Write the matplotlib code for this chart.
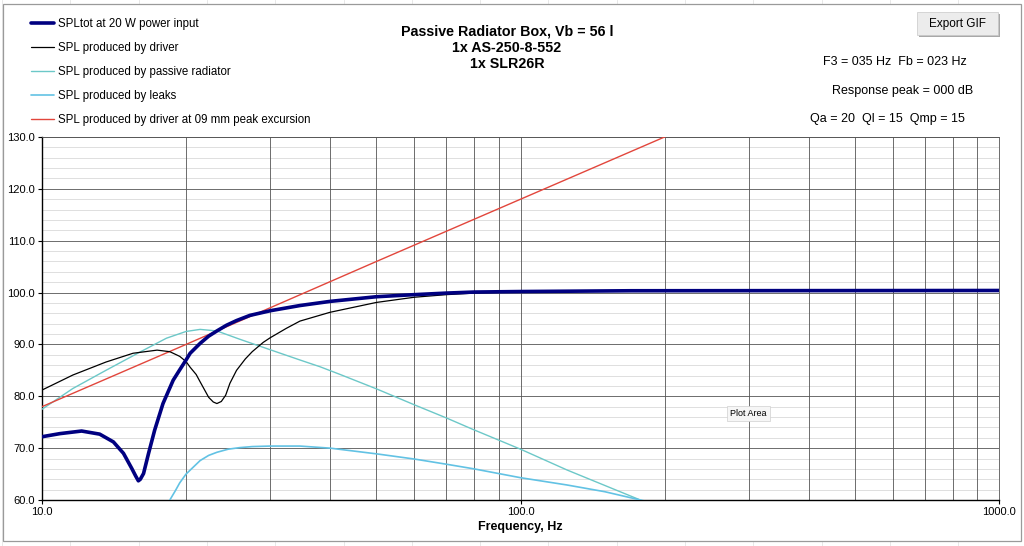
#!/usr/bin/env python3
# -*- coding: utf-8 -*-
"""Passive radiator box - SPL curves (Excel style chart)."""

import numpy as np
import matplotlib
matplotlib.use('Agg')
import matplotlib.pyplot as plt
from matplotlib.patches import Rectangle
from matplotlib.ticker import FixedLocator, NullFormatter

plt.rcParams['font.family'] = ['Liberation Sans', 'DejaVu Sans']

# --- dane ---
f_tot = [10.0, 10.9, 12.1, 13.2, 14.1, 14.8, 15.4, 15.7, 15.9, 16.05, 16.3, 16.7,
         17.2, 17.9, 18.8, 19.4, 20.0, 20.4, 21.4, 22.3, 23.2, 24.3, 25.5, 27.2,
         30, 34.6, 40, 50, 60, 70, 80, 100, 170, 1000]
spl_tot = [72.2, 72.8, 73.3, 72.7, 71.2, 69.0, 66.1, 64.6, 63.7, 64.0, 65.1, 69.0,
           73.5, 78.6, 83.1, 85.1, 87.0, 88.3, 90.2, 91.6, 92.6, 93.7, 94.6, 95.6,
           96.5, 97.5, 98.3, 99.2, 99.6, 99.9, 100.1, 100.2, 100.35, 100.4]

f_drv = [10.0, 11.6, 13.6, 15.5, 17.4, 18.5, 19.4, 20.0, 20.4, 21.0, 21.4, 22.3,
         22.8, 23.2, 23.7, 24.2, 24.7, 25.5, 26.6, 27.5, 29.0, 30, 32.4, 34.6,
         40, 50, 60, 70, 80, 100, 170, 1000]
spl_drv = [81.2, 84.1, 86.6, 88.3, 88.9, 88.6, 87.7, 86.7, 85.6, 84.2, 82.8, 79.8,
           78.9, 78.6, 79.0, 80.2, 82.5, 85.0, 87.2, 88.6, 90.4, 91.3, 93.1, 94.5,
           96.2, 98.1, 99.1, 99.6, 99.9, 100.15, 100.35, 100.4]

f_pr = [10.0, 11.6, 13.6, 16.0, 18.2, 20.0, 21.4, 23.2, 25.9, 29.5, 34.6, 38.1,
        42, 50.1, 60.2, 70.1, 79.6, 100, 125, 178, 200]
spl_pr = [77.5, 81.5, 85.0, 88.5, 91.2, 92.5, 92.9, 92.6, 91.0, 89.2, 87.0, 85.7,
          84.2, 81.4, 78.3, 75.8, 73.6, 69.8, 65.8, 60.0, 58.0]

f_leak = [18.5, 19.0, 19.4, 20.0, 21.4, 22.3, 23.2, 24.5, 25.9, 27.5, 30, 34.6,
          40, 50, 60, 70, 80, 100, 125, 150, 178, 200]
spl_leak = [60.0, 61.8, 63.3, 65.0, 67.6, 68.6, 69.2, 69.8, 70.1, 70.3, 70.4, 70.4,
            70.0, 68.9, 67.9, 66.9, 66.0, 64.3, 62.9, 61.6, 60.0, 58.9]

f_xmax = [10, 20, 50, 100, 200, 300]
spl_xmax = [78.0, 90.0, 106.0, 118.0, 130.0, 137.0]

legend_labels = ['SPLtot at 20 W power input',
                 'SPL produced by driver',
                 'SPL produced by passive radiator',
                 'SPL produced by leaks',
                 'SPL produced by driver at 09 mm peak excursion']

title_lines = ['Passive Radiator Box, Vb = 56 l', '1x AS-250-8-552', '1x SLR26R']
info_lines = ['F3 = 035 Hz  Fb = 023 Hz', 'Response peak = 000 dB',
              'Qa = 20  Ql = 15  Qmp = 15']

x_ticks = [10, 100, 1000]
x_ticklabels = ['10.0', '100.0', '1000.0']
y_ticks = [60, 70, 80, 90, 100, 110, 120, 130]


def main():
    W, H = 1024, 546
    fig = plt.figure(figsize=(W / 100, H / 100), dpi=100)
    fig.patch.set_facecolor('white')

    # tlo arkusza - slabe linie siatki Excela
    for xc in np.arange(2.0, W, 68.3):
        fig.add_artist(plt.Line2D([xc / W, xc / W], [0, 1], color='#e4e4e4', lw=0.6, zorder=0))
    # ramka obszaru wykresu
    fig.add_artist(Rectangle((3 / W, 1 - 541 / H), 1018 / W, 537 / H, transform=fig.transFigure,
                             facecolor='white', edgecolor='#9a9a9a', lw=0.9, zorder=1))

    ax = fig.add_axes([42 / W, 1 - 500 / H, 957 / W, 363 / H])
    ax.set_zorder(2)
    ax.set_xscale('log')
    ax.set_xlim(10, 1000)
    ax.set_ylim(60, 130)

    # siatka
    minor_x = [m * 10 ** d for d in (1, 2) for m in range(2, 10)]
    for xv in minor_x + [100]:
        ax.axvline(xv, color='#555555', lw=0.6, zorder=1)
    for yv in np.arange(62, 130, 2):
        if yv % 10:
            ax.axhline(yv, color='#d9d9d9', lw=0.6, zorder=0.5)
    for yv in y_ticks[1:]:
        ax.axhline(yv, color='#555555', lw=0.6, zorder=1)

    ax.xaxis.set_major_locator(FixedLocator(x_ticks))
    ax.xaxis.set_minor_locator(FixedLocator([]))
    ax.xaxis.set_minor_formatter(NullFormatter())
    ax.set_xticklabels(x_ticklabels)
    ax.set_yticks(y_ticks)
    ax.set_yticklabels([f'{v:.1f}' for v in y_ticks])
    ax.tick_params(axis='both', labelsize=8, length=3, width=0.8, color='black', pad=2)
    for s in ('top', 'right'):
        ax.spines[s].set_color('#555555')
        ax.spines[s].set_linewidth(0.6)
    for s in ('left', 'bottom'):
        ax.spines[s].set_color('black')
        ax.spines[s].set_linewidth(1.0)

    ax.set_xlabel('Frequency, Hz', fontsize=9, fontweight='bold', labelpad=3)

    # krzywe
    kw = dict(solid_joinstyle='round', solid_capstyle='round')
    l_pr, = ax.plot(f_pr, spl_pr, color='#6cc8c8', lw=1.0, zorder=3, **kw)
    l_leak, = ax.plot(f_leak, spl_leak, color='#62c2e4', lw=1.2, zorder=3, **kw)
    l_xmax, = ax.plot(f_xmax, spl_xmax, color='#e2463c', lw=1.0, zorder=3, **kw)
    l_drv, = ax.plot(f_drv, spl_drv, color='black', lw=0.9, zorder=4, **kw)
    l_tot, = ax.plot(f_tot, spl_tot, color='#000080', lw=2.6, zorder=5, **kw)

    fig.legend([l_tot, l_drv, l_pr, l_leak, l_xmax], legend_labels,
               loc='upper left', bbox_to_anchor=(26 / W, 1 - 13 / H),
               frameon=False, fontsize=8.3, handlelength=2.0,
               handletextpad=0.35, labelspacing=1.05, borderaxespad=0)

    # tytul
    for i, t in enumerate(title_lines):
        fig.text(507 / W, 1 - (32 + 16 * i) / H, t, ha='center', va='center',
                 fontsize=10.3, fontweight='bold')

    # parametry
    info_x = [967, 973, 965]
    info_y = [62, 91, 119]
    for t, xx, yy in zip(info_lines, info_x, info_y):
        fig.text(xx / W, 1 - yy / H, t, ha='right', va='center', fontsize=9)

    # przycisk "Export GIF"
    fig.add_artist(Rectangle((919 / W, 1 - 37 / H), 81 / W, 23 / H, transform=fig.transFigure,
                             facecolor='#a8a8a8', edgecolor='none', zorder=3))
    fig.add_artist(Rectangle((917 / W, 1 - 35 / H), 81 / W, 23 / H, transform=fig.transFigure,
                             facecolor='#ececec', edgecolor='#c8c8c8', lw=0.5, zorder=4))
    fig.text(957.5 / W, 1 - 23.5 / H, 'Export GIF', ha='center', va='center',
             fontsize=8.5, zorder=5)

    # dymek "Plot Area"
    ax.text(0.7385, 0.239, 'Plot Area', transform=ax.transAxes, ha='center', va='center',
            fontsize=6.5, zorder=6,
            bbox=dict(boxstyle='square,pad=0.35', facecolor='#f6f6f6',
                      edgecolor='#cfcfcf', lw=0.5))

    fig.savefig('out.png', dpi=100, facecolor='white')
    plt.close(fig)


if __name__ == '__main__':
    main()
